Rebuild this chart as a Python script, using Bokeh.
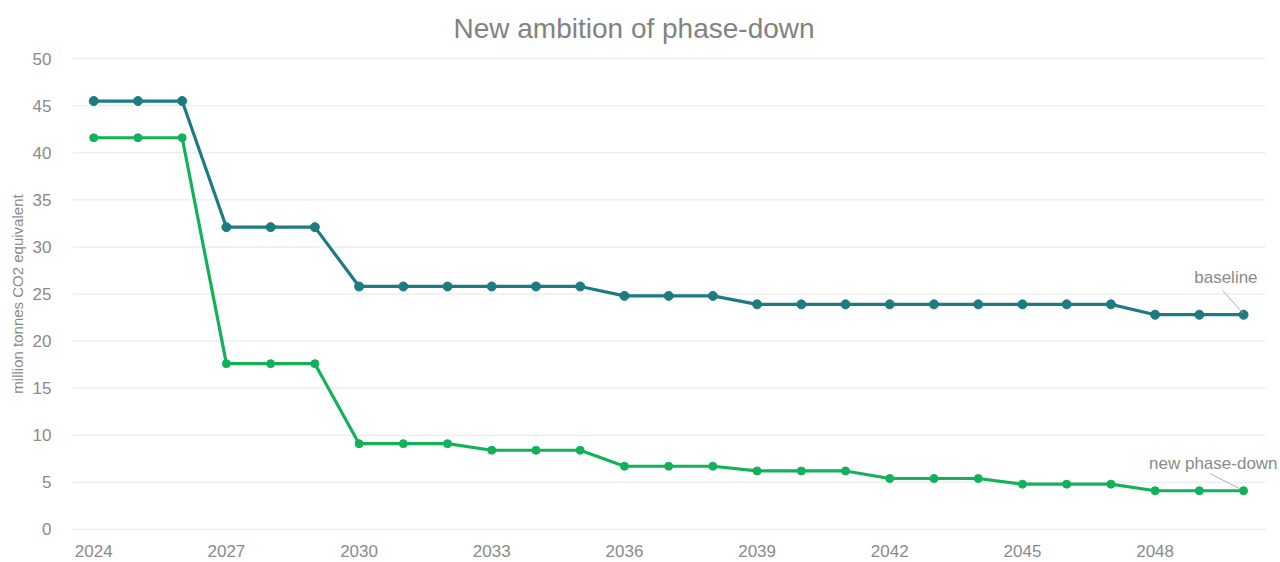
from bokeh.plotting import figure
from bokeh.models import ColumnDataSource, Label, Range1d, FixedTicker, Title
from bokeh.embed import file_html
from bokeh.resources import INLINE

years = list(range(2024, 2051))
baseline = [45.5, 45.5, 45.5, 32.1, 32.1, 32.1, 25.8, 25.8, 25.8, 25.8, 25.8, 25.8,
            24.8, 24.8, 24.8, 23.9, 23.9, 23.9, 23.9, 23.9, 23.9, 23.9, 23.9, 23.9,
            22.8, 22.8, 22.8]
phase_down = [41.6, 41.6, 41.6, 17.6, 17.6, 17.6, 9.1, 9.1, 9.1, 8.4, 8.4, 8.4,
              6.7, 6.7, 6.7, 6.2, 6.2, 6.2, 5.4, 5.4, 5.4, 4.8, 4.8, 4.8,
              4.1, 4.1, 4.1]
x_ticks = list(range(2024, 2050, 3))
y_ticks = list(range(0, 51, 5))

FONT = "Liberation Sans"
GREY = "#8a8a8a"
TEAL = "#1d7b82"
GREEN = "#12b25a"

X0, X1 = 2023.52, 2050.835
p = figure(width=1280, height=562, output_backend="svg", toolbar_location=None,
           x_range=Range1d(X0, X1), y_range=Range1d(-0.55, 50.55),
           min_border_left=72, min_border_right=0, min_border_top=52,
           min_border_bottom=28)
p.title = Title(text="New ambition of phase-down", align="left", offset=381,
                text_font=FONT, text_font_size="28px", text_color="#828282",
                text_font_style="normal", standoff=20)
p.outline_line_color = None
p.background_fill_color = "white"
p.border_fill_color = "white"

# horizontal grid lines (drawn so they stop short of the annotation text)
p.segment(x0=[X0] * len(y_ticks), x1=[2050.5] * len(y_ticks), y0=y_ticks, y1=y_ticks,
          line_color="#e6e6e6", line_width=1)

src = ColumnDataSource(dict(year=years, baseline=baseline, phase=phase_down))
p.line("year", "baseline", source=src, line_color=TEAL, line_width=3.2)
p.scatter("year", "baseline", source=src, size=9, fill_color=TEAL, line_color=TEAL)
p.line("year", "phase", source=src, line_color=GREEN, line_width=3.2)
p.scatter("year", "phase", source=src, size=8, fill_color=GREEN, line_color=GREEN)

p.xaxis.ticker = FixedTicker(ticks=x_ticks)
p.yaxis.ticker = FixedTicker(ticks=y_ticks)
for ax in (p.xaxis, p.yaxis):
    ax.axis_line_color = None
    ax.major_tick_line_color = None
    ax.minor_tick_line_color = None
    ax.major_label_text_font = FONT
    ax.major_label_text_font_size = "17px"
    ax.major_label_text_color = GREY
p.yaxis.major_label_standoff = 15
p.xaxis.major_label_standoff = 4
p.yaxis.axis_label = "million tonnes CO2 equivalent"
p.yaxis.axis_label_text_font = FONT
p.yaxis.axis_label_text_font_size = "15px"
p.yaxis.axis_label_text_font_style = "normal"
p.yaxis.axis_label_text_color = GREY
p.yaxis.axis_label_standoff = 4

p.xgrid.grid_line_color = None
p.ygrid.grid_line_color = None

# annotations
last_x = years[-1]
p.segment(x0=[last_x - 0.47, last_x - 0.75], y0=[baseline[-1] + 2.55, phase_down[-1] + 1.8],
          x1=[last_x - 0.02, last_x - 0.08], y1=[baseline[-1] + 0.2, phase_down[-1] + 0.2],
          line_color="#b0b0b0", line_width=1)
p.add_layout(Label(x=last_x, y=baseline[-1], x_offset=14, y_offset=37, text="baseline",
                   text_font=FONT, text_font_size="17px", text_color=GREY,
                   text_align="right", text_baseline="middle"))
p.add_layout(Label(x=last_x, y=phase_down[-1], x_offset=34, y_offset=27, text="new phase-down",
                   text_font=FONT, text_font_size="17px", text_color=GREY,
                   text_align="right", text_baseline="middle"))

open("out.html", "w").write(file_html(p, INLINE))
